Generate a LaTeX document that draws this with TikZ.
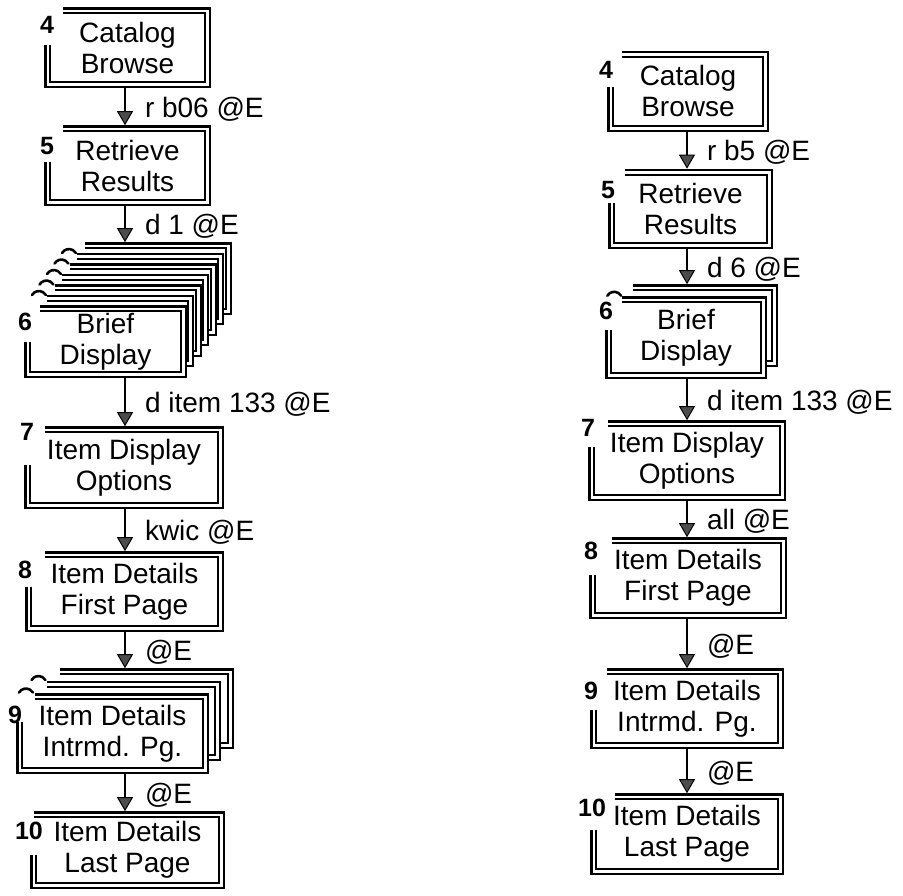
\documentclass[tikz,border=0pt]{standalone}
\usepackage{fontspec}
\setmainfont{Liberation Sans}
\usetikzlibrary{arrows.meta, positioning, calc}
\tikzset{
  screen/.style={rectangle, inner sep=0pt, fill=white, align=center,
    font=\fontsize{28}{31}\selectfont},
  sheet/.style={rectangle, inner sep=0pt, fill=white},
  dframe/.style={draw=black, double=white, double distance=2.6pt, line width=2.3pt},
  num/.style={inner sep=0pt, font=\bfseries\fontsize{25}{25}\selectfont},
  act/.style={inner sep=0pt, anchor=west, xshift=19pt, yshift=-2.5pt,
    font=\fontsize{28}{31}\selectfont},
  flow/.style={line width=2pt, shorten <=3.6pt, shorten >=3.6pt,
    -{Triangle[width=16pt, length=14pt, fill=black!70, line width=1pt]}},
  curl/.style={line width=2.6pt, line cap=round}
}
% double frame, open at the top-left corner
\newcommand{\scrframe}[3]{%
  \draw[dframe] ($(#1.north west)+(#2,0)$) -| (#1.south east) -| ($(#1.north west)+(0,#3)$);}

\begin{document}
\begin{tikzpicture}[x=1pt, y=-1pt]
  \useasboundingbox (0,0) rectangle (903,895);

  % Arrow columns
  \coordinate (lx) at (125,0);
  \coordinate (rx) at (687,0);

  %% ---------- Left session ----------
  % Catalog Browse
  \node[screen, minimum width=159pt, minimum height=73.5pt] (L4) at (127.5,47.75) {Catalog\\Browse};
  \scrframe{L4}{15}{34}
  \node[num] (n4l) at (47,25) {4};

  % Retrieve Results
  \node[screen, minimum width=159pt, minimum height=73.5pt] (L5) at (127.5,165.75) {Retrieve\\Results};
  \scrframe{L5}{15}{33}
  \node[num] (n5l) at (47,146) {5};

  % Brief Display, stack of 7 screens
  \coordinate (L6c) at (105.5,341.5);
  \foreach \k in {6,...,1}{
    \node[sheet, minimum width=155pt, minimum height=65pt] (L6s\k) at ($(L6c)+(7.5*\k,-10.5*\k)$) {};
    \scrframe{L6s\k}{12}{33}
  }
  \node[screen, minimum width=155pt, minimum height=65pt] (L6) at (L6c) {Brief\\Display};
  \scrframe{L6}{12}{33}
  \node[num] (n6l) at (25,322) {6};
  \foreach \k [evaluate=\k as \j using int(\k+1)] in {1,...,5}
    \draw[curl] ($(L6s\k.north west)!0.5!(L6s\j.north west)+(-7,2)$) arc[start angle=210, end angle=330, radius=8];

  % Item Display Options
  \node[screen, minimum width=192pt, minimum height=75pt] (L7) at (124,467.5) {Item Display\\Options};
  \scrframe{L7}{17}{35}
  \node[num] (n7l) at (27,432) {7};

  % Item Details First Page
  \node[screen, minimum width=191pt, minimum height=73pt] (L8) at (124.5,591.5) {Item Details\\First Page};
  \scrframe{L8}{16}{32}
  \node[num] (n8l) at (25,570) {8};

  % Item Details Intrmd. Pg., stack of 3 screens
  \coordinate (L9c) at (112.5,733.5);
  \foreach \k in {2,1}{
    \node[sheet, minimum width=185pt, minimum height=73pt] (L9s\k) at ($(L9c)+(12.5*\k,-12.5*\k)$) {};
    \scrframe{L9s\k}{15}{25}
  }
  \node[screen, minimum width=185pt, minimum height=73pt] (L9) at (L9c) {Item Details\\Intrmd. Pg.};
  \scrframe{L9}{15}{25}
  \node[num] (n9l) at (15,715) {9};
  \draw[curl] ($(L9.north west)!0.5!(L9s1.north west)+(-7,2)$) arc[start angle=210, end angle=330, radius=8];
  \draw[curl] ($(L9s1.north west)!0.5!(L9s2.north west)+(-7,2)$) arc[start angle=210, end angle=330, radius=8];

  % Item Details Last Page
  \node[screen, minimum width=187pt, minimum height=70pt] (L10) at (127.5,850) {Item Details\\Last Page};
  \scrframe{L10}{0}{40}
  \node[num] (n10l) at (29,831) {10};

  % Left transitions
  \draw[flow] (L4.south -| lx) -- node[act] {r b06 @E} (L5.north -| lx);
  \draw[flow] (L5.south -| lx) -- node[act] {d 1 @E} (L6s6.north -| lx);
  \draw[flow] (L6.south -| lx) -- node[act] {d item 133 @E} (L7.north -| lx);
  \draw[flow] (L7.south -| lx) -- node[act] {kwic @E} (L8.north -| lx);
  \draw[flow] (L8.south -| lx) -- node[act] {@E} (L9s2.north -| lx);
  \draw[flow] (L9.south -| lx) -- node[act] {@E} (L10.north -| lx);

  %% ---------- Right session ----------
  % Catalog Browse
  \node[screen, minimum width=154pt, minimum height=73.5pt] (R4) at (688,91.25) {Catalog\\Browse};
  \scrframe{R4}{11}{32.5}
  \node[num] (n4r) at (606,70) {4};

  % Retrieve Results
  \node[screen, minimum width=157pt, minimum height=72.5pt] (R5) at (690.5,208.75) {Retrieve\\Results};
  \scrframe{R5}{13}{30.5}
  \node[num] (n5r) at (608,190) {5};

  % Brief Display, stack of 2 screens
  \coordinate (R6c) at (686,337.5);
  \node[sheet, minimum width=154pt, minimum height=75pt] (R6s1) at ($(R6c)+(11,-12)$) {};
  \scrframe{R6s1}{13}{30}
  \node[screen, minimum width=154pt, minimum height=75pt] (R6) at (R6c) {Brief\\Display};
  \scrframe{R6}{13}{30}
  \node[num] (n6r) at (606,311) {6};
  \draw[curl] ($(R6.north west)!0.5!(R6s1.north west)+(-7,2)$) arc[start angle=210, end angle=330, radius=8];

  % Item Display Options
  \node[screen, minimum width=190pt, minimum height=73pt] (R7) at (687,460.5) {Item Display\\Options};
  \scrframe{R7}{16}{23}
  \node[num] (n7r) at (588,428) {7};

  % Item Details First Page
  \node[screen, minimum width=190pt, minimum height=74pt] (R8) at (688,578) {Item Details\\First Page};
  \scrframe{R8}{19}{34}
  \node[num] (n8r) at (591,551) {8};

  % Item Details Intrmd. Pg.
  \node[screen, minimum width=186pt, minimum height=73pt] (R9) at (687,708.5) {Item Details\\Intrmd. Pg.};
  \scrframe{R9}{13}{38}
  \node[num] (n9r) at (591,691) {9};

  % Item Details Last Page
  \node[screen, minimum width=186pt, minimum height=74pt] (R10) at (687,834) {Item Details\\Last Page};
  \scrframe{R10}{21}{33}
  \node[num] (n10r) at (592,808) {10};

  % Right transitions
  \draw[flow] (R4.south -| rx) -- node[act] {r b5 @E} (R5.north -| rx);
  \draw[flow] (R5.south -| rx) -- node[act] {d 6 @E} (R6s1.north -| rx);
  \draw[flow] (R6.south -| rx) -- node[act] {d item 133 @E} (R7.north -| rx);
  \draw[flow] (R7.south -| rx) -- node[act] {all @E} (R8.north -| rx);
  \draw[flow] (R8.south -| rx) -- node[act] {@E} (R9.north -| rx);
  \draw[flow] (R9.south -| rx) -- node[act] {@E} (R10.north -| rx);
\end{tikzpicture}
\end{document}
